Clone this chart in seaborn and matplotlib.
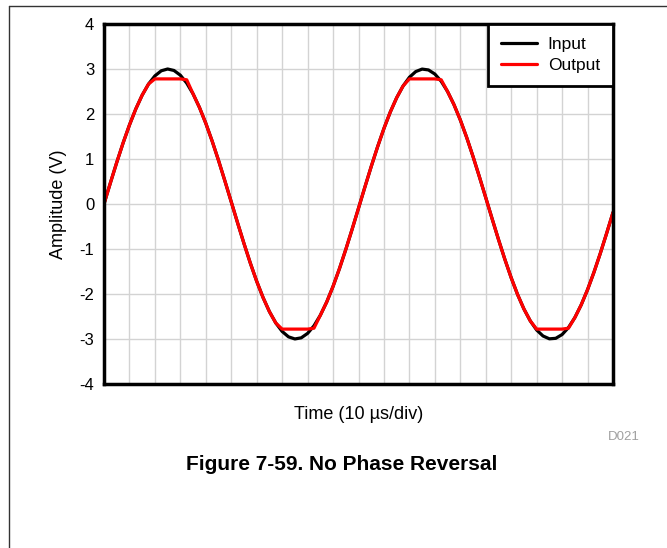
import matplotlib
matplotlib.use("Agg")
import matplotlib.pyplot as plt
import seaborn as sns
import numpy as np
import pandas as pd

# time in divisions (10 us/div), sampled every quarter division
time_div = [j * 0.25 for j in range(81)]

# input sine (V)
input_v = [0, 0.467, 0.923, 1.356, 1.755, 2.113, 2.419, 2.666, 2.847, 2.960,
           3.000, 2.967, 2.862, 2.687, 2.447, 2.146, 1.793, 1.397, 0.968, 0.513,
           0.047, -0.421, -0.878, -1.314, -1.718, -2.079, -2.392, -2.644, -2.832, -2.952,
           -2.999, -2.974, -2.875, -2.707, -2.473, -2.179, -1.831, -1.439, -1.012, -0.560,
           -0.094, 0.374, 0.833, 1.271, 1.679, 2.045, 2.362, 2.621, 2.816, 2.943,
           2.998, 2.979, 2.888, 2.727, 2.499, 2.210, 1.868, 1.480, 1.055, 0.605,
           0.141, -0.328, -0.788, -1.229, -1.640, -2.011, -2.333, -2.598, -2.800, -2.933,
           -2.996, -2.985, -2.901, -2.746, -2.525, -2.242, -1.904, -1.520, -1.099, -0.651,
           -0.187]

# output, clipped near +/-2.78 V
output_v = [0, 0.467, 0.923, 1.356, 1.755, 2.113, 2.419, 2.666, 2.78, 2.78,
            2.78, 2.78, 2.78, 2.76, 2.447, 2.146, 1.793, 1.397, 0.968, 0.513,
            0.047, -0.421, -0.878, -1.314, -1.718, -2.079, -2.392, -2.644, -2.78, -2.78,
            -2.78, -2.78, -2.78, -2.76, -2.473, -2.179, -1.831, -1.439, -1.012, -0.560,
            -0.094, 0.374, 0.833, 1.271, 1.679, 2.045, 2.362, 2.621, 2.78, 2.78,
            2.78, 2.78, 2.78, 2.76, 2.499, 2.210, 1.868, 1.480, 1.055, 0.605,
            0.141, -0.328, -0.788, -1.229, -1.640, -2.011, -2.333, -2.598, -2.78, -2.78,
            -2.78, -2.78, -2.78, -2.76, -2.525, -2.242, -1.904, -1.520, -1.099, -0.651,
            -0.187]

y_ticks = [-4, -3, -2, -1, 0, 1, 2, 3, 4]

df = pd.DataFrame({
    "time": time_div * 2,
    "amp": input_v + output_v,
    "series": ["Input"] * len(time_div) + ["Output"] * len(time_div),
})

sns.set_style("white")
plt.rcParams['font.family'] = ['Liberation Sans', 'DejaVu Sans']
plt.rcParams['text.color'] = 'black'
plt.rcParams['axes.labelcolor'] = 'black'
plt.rcParams['ytick.color'] = 'black'
plt.rcParams['xtick.color'] = 'black'

fig = plt.figure(figsize=(6.67, 5.48), dpi=100)
ax = fig.add_axes([104 / 667, 1 - 384 / 548, 509 / 667, 360 / 548])

sns.lineplot(data=df, x="time", y="amp", hue="series",
             palette={"Input": "black", "Output": "#ff0000"},
             linewidth=2.3, ax=ax, legend=True)

ax.set_xlim(0, 20)
ax.set_ylim(-4, 4)
ax.set_xticks(np.arange(0, 21, 1))
ax.set_xticklabels([])
ax.set_yticks(y_ticks)
ax.set_yticklabels([str(t) for t in y_ticks], fontsize=12)
ax.tick_params(length=0, pad=7)
ax.grid(True, color="#d3d3d3", linewidth=1)
ax.set_axisbelow(True)
for s in ax.spines.values():
    s.set_linewidth(2.5)
    s.set_color("black")
    s.set_zorder(5)

ax.set_xlabel("Time (10 µs/div)", fontsize=13, labelpad=9)
ax.set_ylabel("Amplitude (V)", fontsize=13, labelpad=9)

leg = ax.legend(loc="upper right", fontsize=12.5, frameon=True, fancybox=False,
                borderaxespad=0, handlelength=2.1, handletextpad=0.6,
                labelspacing=0.35, borderpad=0.75)
leg.get_frame().set_edgecolor("black")
leg.get_frame().set_linewidth(2)
leg.get_frame().set_alpha(1)
for line in leg.get_lines():
    line.set_linewidth(2.3)

fig.text(624 / 667, 1 - 437 / 548, "D021", fontsize=9.5, color="#a0a0a0",
         ha="center", va="center")
fig.text(342 / 667, 1 - 470 / 548, "Figure 7-59. No Phase Reversal",
         fontsize=15, fontweight="bold", ha="center", va="baseline")

# page frame
fig.add_artist(plt.Line2D([8.5 / 667, 8.5 / 667], [0, 1 - 5.5 / 548],
                          color="#333333", linewidth=1, transform=fig.transFigure))
fig.add_artist(plt.Line2D([8.5 / 667, 1], [1 - 5.5 / 548, 1 - 5.5 / 548],
                          color="#333333", linewidth=1, transform=fig.transFigure))

fig.savefig("out.png", dpi=100)
